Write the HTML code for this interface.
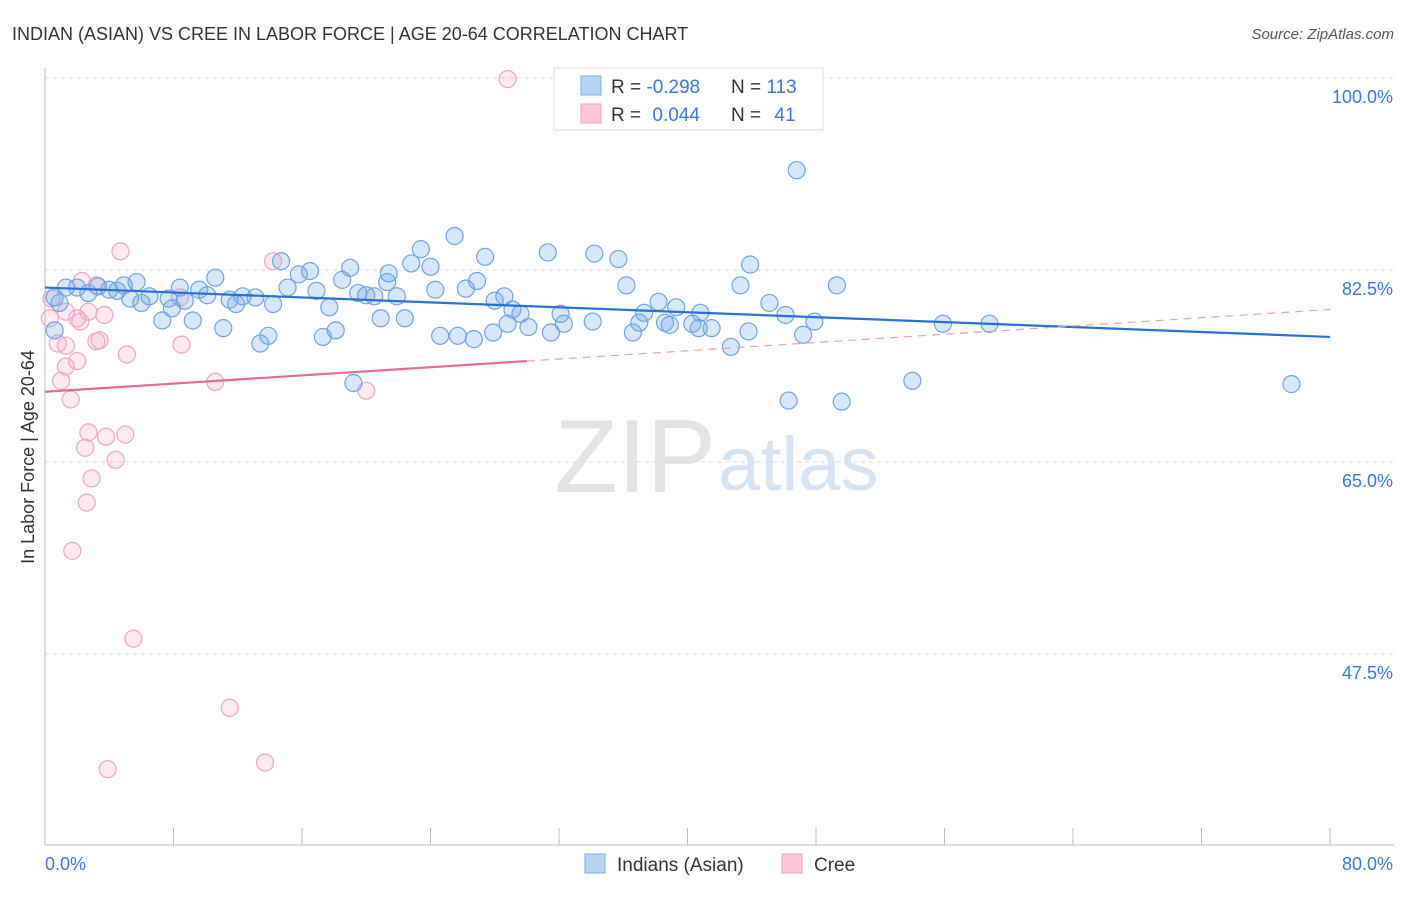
<!DOCTYPE html>
<html><head><meta charset="utf-8">
<style>
body{margin:0;background:#fff;font-family:"Liberation Sans",sans-serif;}
svg text{font-family:"Liberation Sans",sans-serif;}
</style></head>
<body>
<svg id="chart" width="1406" height="892" viewBox="0 0 1406 892" xmlns="http://www.w3.org/2000/svg">
<text x="12" y="40" font-size="18" fill="#333">INDIAN (ASIAN) VS CREE IN LABOR FORCE | AGE 20-64 CORRELATION CHART</text>
<text x="1394" y="39" font-size="15" fill="#555" text-anchor="end" font-style="italic">Source: ZipAtlas.com</text>
<text x="716" y="492" font-size="104" fill="#e4e4e4" text-anchor="end" font-family="Liberation Serif">ZIP</text>
<text x="718" y="490" font-size="76" fill="#d5e3f3">atlas</text>
<g id="grid"></g>
<g id="axes"></g>
<g id="marks"></g>
<text transform="translate(34,457) rotate(-90)" font-size="18" fill="#333" text-anchor="middle">In Labor Force | Age 20-64</text>
<g>
<rect x="554" y="68" width="269" height="62" fill="#fff" stroke="#ddd"/>
<rect x="581" y="76" width="20" height="19" fill="#b8d4f4" stroke="#7aaee8"/>
<rect x="581" y="104" width="20" height="19" fill="#fbc6d6" stroke="#f0a0bd"/>
<text x="611" y="93" font-size="19" fill="#333">R = <tspan fill="#3a78d4">-0.298</tspan></text>
<text x="731" y="93" font-size="19" fill="#333">N = <tspan fill="#3a78d4">113</tspan></text>
<text x="611" y="121" font-size="19" fill="#333">R = <tspan fill="#3a78d4" dx="6">0.044</tspan></text>
<text x="731" y="121" font-size="19" fill="#333">N = <tspan fill="#3a78d4" dx="8">41</tspan></text>
</g>
<g>
<rect x="585" y="854" width="20" height="19" fill="#b8d4f4" stroke="#7aaee8"/>
<text x="617" y="871" font-size="19" fill="#333">Indians (Asian)</text>
<rect x="782" y="854" width="20" height="19" fill="#fbc6d6" stroke="#f0a0bd"/>
<text x="814" y="871" font-size="19" fill="#333">Cree</text>
</g>
</svg>
<script>
const yTicks=[100,82.5,65,47.5];
const yTickLabels=["100.0%","82.5%","65.0%","47.5%"];
const xTickVals=[0,8,16,24,32,40,48,56,64,72,80];
const blueX=[46.8,25.5,23.4,31.3,34.2,35.7,27.4,22.8,24.0,19.0,14.7,16.5,15.8,21.4,43.9,10.6,18.5,21.3,26.9,36.2,43.3,49.3,5.7,4.9,1.3,2.0,3.3,8.4,15.1,24.3,26.2,9.6,4.0,2.7,0.6,0.9,4.5,6.5,5.3,7.7,10.1,12.3,13.1,16.9,19.5,20.0,20.5,21.9,11.5,14.2,11.9,8.7,7.9,6.0,28.0,28.6,38.2,39.3,45.1,17.7,29.1,29.6,32.1,37.3,40.8,46.1,20.9,22.4,9.2,7.3,28.8,30.1,32.3,34.1,37.0,38.6,38.9,40.3,40.7,41.5,47.9,55.9,58.8,11.1,18.1,27.9,31.5,36.6,43.8,47.2,24.6,25.7,26.7,13.9,17.3,13.4,42.7,54.0,77.6,19.2,46.3,49.6,0.6];
const blueY=[91.6,85.6,84.4,84.1,84.0,83.5,83.7,83.1,82.8,82.7,83.3,82.4,82.1,82.2,83.0,81.8,81.6,81.4,81.5,81.1,81.1,81.1,81.4,81.1,80.9,80.9,81.0,80.9,80.9,80.7,80.8,80.7,80.7,80.4,80.0,79.5,80.6,80.1,79.9,79.9,80.2,80.1,80.0,80.6,80.4,80.2,80.1,80.1,79.8,79.4,79.4,79.7,79.0,79.5,79.7,80.1,79.6,79.1,79.5,79.1,78.9,78.5,78.5,78.6,78.6,78.4,78.1,78.1,77.9,77.9,77.6,77.3,77.6,77.8,77.7,77.7,77.5,77.6,77.2,77.2,77.8,77.6,77.6,77.2,77.0,76.8,76.8,76.8,76.9,76.6,76.5,76.5,76.2,76.5,76.4,75.8,75.5,72.4,72.1,72.2,70.6,70.5,77.0];
const pinkX=[28.8,4.7,14.2,2.3,3.2,8.4,0.4,1.3,2.7,3.7,2.0,2.2,0.3,3.4,3.2,0.8,1.3,8.5,5.1,2.0,1.3,1.0,10.6,20.0,1.6,2.7,5.0,3.8,2.5,4.4,2.9,2.6,1.7,5.5,11.5,13.7,3.9];
const pinkY=[99.9,84.2,83.3,81.5,81.1,80.0,79.9,78.7,78.7,78.4,78.1,77.8,78.1,76.1,76.0,75.8,75.6,75.7,74.8,74.2,73.7,72.4,72.3,71.5,70.7,67.7,67.5,67.3,66.3,65.2,63.5,61.3,56.9,48.9,42.6,37.6,37.0];
const blueTrendX=[0,80], blueTrendY=[80.9,76.4];
const pinkTrendX=[0,30,80], pinkTrendY=[71.4,74.2,78.9];

const NS="http://www.w3.org/2000/svg";
const X0=45,X1=1330,Y100=78,PXPER=192/17.5;
const sx=v=>X0+(X1-X0)*v/80;
const sy=v=>Y100+(100-v)*PXPER;
function mk(tag,attrs,parent){const e=document.createElementNS(NS,tag);for(const k in attrs)e.setAttribute(k,attrs[k]);parent.appendChild(e);return e;}
const grid=document.getElementById('grid'),axes=document.getElementById('axes'),marks=document.getElementById('marks');
yTicks.forEach((t,i)=>{
 const l=mk('line',{x1:45,x2:1394,y1:sy(t),y2:sy(t),stroke:'#ddd','stroke-dasharray':'4,4'},grid);
 
 
 const tx=mk('text',{x:1393,y:sy(t)+25,'font-size':18,fill:'#3a78d4','text-anchor':'end'},axes);
 tx.textContent=yTickLabels[i];
 
 
});
const ax=mk('line',{x1:45,x2:1394,y1:845,y2:845,stroke:'#bbb'},axes);


const ay=mk('line',{x1:45,x2:45,y1:68,y2:845,stroke:'#bbb'},axes);


xTickVals.forEach(v=>{
 const t=mk('line',{x1:sx(v),x2:sx(v),y1:828,y2:845,stroke:'#bbb'},axes);
 
 
});
[["0.0%",45,'start'],["80.0%",1393,'end']].forEach(a=>{
 const t=mk('text',{x:a[1],y:870,'font-size':18,fill:'#3a78d4','text-anchor':a[2]},axes);
 t.textContent=a[0];
 
 
});
pinkX.forEach((v,i)=>{
 const c=mk('circle',{cx:sx(v),cy:sy(pinkY[i]),r:8.5,fill:'rgba(244,160,190,0.22)',stroke:'#f2a5c0','stroke-width':1.2},marks);
 
 
});
blueX.forEach((v,i)=>{
 const c=mk('circle',{cx:sx(v),cy:sy(blueY[i]),r:8.5,fill:'rgba(110,165,230,0.28)',stroke:'#6fa4e4','stroke-width':1.2},marks);
 
 
});
const bt=mk('line',{x1:sx(blueTrendX[0]),y1:sy(blueTrendY[0]),x2:sx(blueTrendX[1]),y2:sy(blueTrendY[1]),stroke:'#2a6fd6','stroke-width':2.2},marks);


const pt=mk('line',{x1:sx(pinkTrendX[0]),y1:sy(pinkTrendY[0]),x2:sx(pinkTrendX[1]),y2:sy(pinkTrendY[1]),stroke:'#e86a95','stroke-width':2.2},marks);


const pd=mk('line',{x1:sx(pinkTrendX[1]),y1:sy(pinkTrendY[1]),x2:sx(pinkTrendX[2]),y2:sy(pinkTrendY[2]),stroke:'#e8a0b8','stroke-width':1.2,'stroke-dasharray':'8,6'},marks);


</script>
</body></html>
